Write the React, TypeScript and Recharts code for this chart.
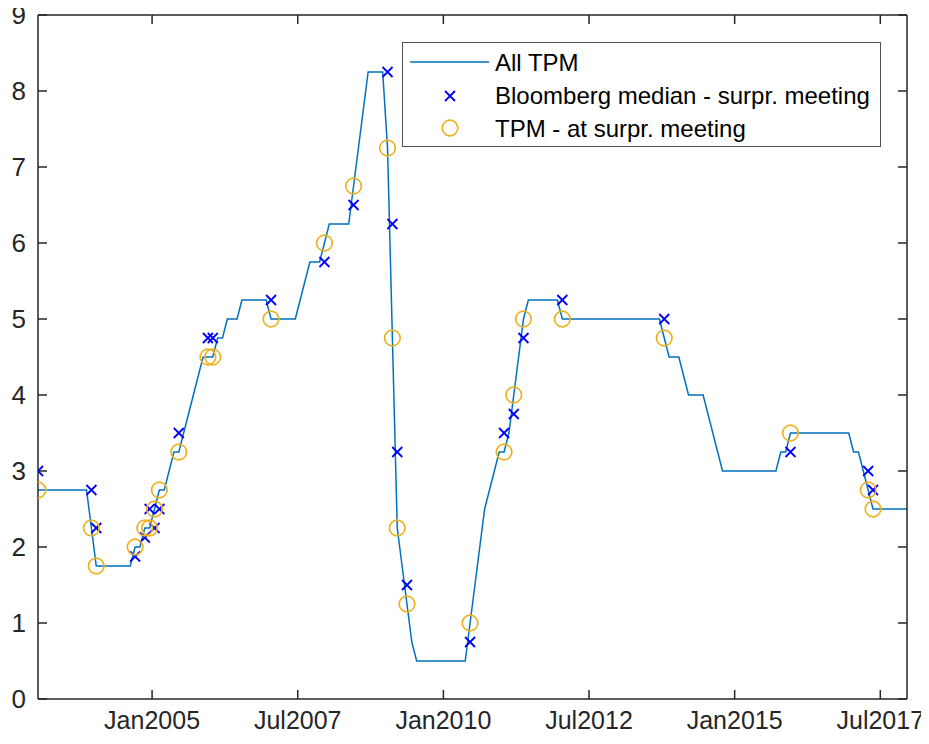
import React from "react";
import { ComposedChart, Line, Scatter, XAxis, YAxis, Legend } from "recharts";

const font = "'Liberation Sans', Arial, sans-serif";
const axisColor = "#262626";

const startYear = 2003;
// monthly policy rate (TPM), one row per year Jan..Dec
const tpmMonthly = [
  2.75, 2.75, 2.75, 2.75, 2.75, 2.75, 2.75, 2.75, 2.75, 2.75, 2.75, 2.25, // 2003
  1.75, 1.75, 1.75, 1.75, 1.75, 1.75, 1.75, 1.75, 2.0, 2.0, 2.25, 2.25, // 2004
  2.5, 2.75, 2.75, 3.0, 3.25, 3.25, 3.5, 3.75, 4.0, 4.25, 4.5, 4.5, // 2005
  4.5, 4.75, 4.75, 5.0, 5.0, 5.0, 5.25, 5.25, 5.25, 5.25, 5.25, 5.25, // 2006
  5.0, 5.0, 5.0, 5.0, 5.0, 5.0, 5.25, 5.5, 5.75, 5.75, 5.75, 6.0, // 2007
  6.25, 6.25, 6.25, 6.25, 6.25, 6.75, 7.25, 7.75, 8.25, 8.25, 8.25, 8.25, // 2008
  7.25, 4.75, 2.25, 1.75, 1.25, 0.75, 0.5, 0.5, 0.5, 0.5, 0.5, 0.5, // 2009
  0.5, 0.5, 0.5, 0.5, 0.5, 1.0, 1.5, 2.0, 2.5, 2.75, 3.0, 3.25, // 2010
  3.25, 3.5, 4.0, 4.5, 5.0, 5.25, 5.25, 5.25, 5.25, 5.25, 5.25, 5.25, // 2011
  5.0, 5.0, 5.0, 5.0, 5.0, 5.0, 5.0, 5.0, 5.0, 5.0, 5.0, 5.0, // 2012
  5.0, 5.0, 5.0, 5.0, 5.0, 5.0, 5.0, 5.0, 5.0, 4.75, 4.5, 4.5, // 2013
  4.5, 4.25, 4.0, 4.0, 4.0, 4.0, 3.75, 3.5, 3.25, 3.0, 3.0, 3.0, // 2014
  3.0, 3.0, 3.0, 3.0, 3.0, 3.0, 3.0, 3.0, 3.0, 3.25, 3.25, 3.5, // 2015
  3.5, 3.5, 3.5, 3.5, 3.5, 3.5, 3.5, 3.5, 3.5, 3.5, 3.5, 3.5, // 2016
  3.25, 3.25, 3.0, 2.75, 2.5, 2.5, 2.5, 2.5, 2.5, 2.5, 2.5, 2.5, // 2017
];

// surprise meetings
const surpriseMonths = [
  "2003-01", "2003-12", "2004-01", "2004-09", "2004-11", "2004-12", "2005-01",
  "2005-02", "2005-06", "2005-12", "2006-01", "2007-01", "2007-12", "2008-06",
  "2009-01", "2009-02", "2009-03", "2009-05", "2010-06", "2011-01", "2011-03",
  "2011-05", "2012-01", "2013-10", "2015-12", "2017-04", "2017-05",
];
const bloombergMedian = [
  3.0, 2.75, 2.25, 1.875, 2.125, 2.5, 2.25,
  2.5, 3.5, 4.75, 4.75, 5.25, 5.75, 6.5,
  8.25, 6.25, 3.25, 1.5, 0.75, 3.5, 3.75,
  4.75, 5.25, 5.0, 3.25, 3.0, 2.75,
];
const tpmAtSurprise = [
  2.75, 2.25, 1.75, 2.0, 2.25, 2.25, 2.5,
  2.75, 3.25, 4.5, 4.5, 5.0, 6.0, 6.75,
  7.25, 4.75, 2.25, 1.25, 1.0, 3.25, 4.0,
  5.0, 5.0, 4.75, 3.5, 2.75, 2.5,
];

const xTicks = [2005, 2007.5, 2010, 2012.5, 2015, 2017.5];
const xTickLabels = ["Jan2005", "Jul2007", "Jan2010", "Jul2012", "Jan2015", "Jul2017"];
const yTicks = [0, 1, 2, 3, 4, 5, 6, 7, 8, 9];

const monthT = (y: number, m: number) => y + (m - 0.5) / 12;
const parseMonth = (s: string) => {
  const [y, m] = s.split("-").map(Number);
  return monthT(y, m);
};

const lineData = tpmMonthly.map((v, i) => ({
  t: monthT(startYear + Math.floor(i / 12), (i % 12) + 1),
  v,
}));
const blueData = surpriseMonths.map((s, i) => ({ t: parseMonth(s), v: bloombergMedian[i] }));
const orangeData = surpriseMonths.map((s, i) => ({ t: parseMonth(s), v: tpmAtSurprise[i] }));
const xDomain = [lineData[0].t, lineData[lineData.length - 1].t];

const XMark = (p: any) => {
  const { cx, cy } = p;
  const h = 5;
  return (
    <path
      d={`M${cx - h},${cy - h}L${cx + h},${cy + h}M${cx - h},${cy + h}L${cx + h},${cy - h}`}
      stroke="#0000ff"
      strokeWidth={1.8}
      fill="none"
    />
  );
};

const OMark = (p: any) => (
  <circle cx={p.cx} cy={p.cy} r={7.8} fill="none" stroke="#EDB120" strokeWidth={1.7} />
);

const LegendBox = () => (
  <svg width={479} height={105} style={{ display: "block" }}>
    <rect x={0.5} y={0.5} width={478} height={104} fill="#fff" stroke="#505050" strokeWidth={1} />
    <line x1={8} y1={20} x2={87} y2={20} stroke="#0072BD" strokeWidth={1.5} />
    <XMark cx={48} cy={54} />
    <OMark cx={48} cy={86} />
    <g fontFamily={font} fontSize={24} fill="#000">
      <text x={93} y={29}>All TPM</text>
      <text x={93} y={62}>Bloomberg median - surpr. meeting</text>
      <text x={93} y={95}>TPM - at surpr. meeting</text>
    </g>
  </svg>
);

const axisLine = { stroke: axisColor, strokeWidth: 1.5 };
const yTickStyle = { fill: axisColor, fontSize: 26, fontFamily: font };
const xTickStyle = { fill: axisColor, fontSize: 25, fontFamily: font };

export default function App() {
  return (
    <div>
      <style>{`.recharts-surface { overflow: visible; }`}</style>
      <ComposedChart
        width={921}
        height={728}
        margin={{ top: 6, right: 21, bottom: 0, left: 0 }}
      >
        <XAxis
          dataKey="t"
          type="number"
          domain={xDomain}
          allowDataOverflow
          ticks={xTicks}
          interval={0}
          tickFormatter={(v: number) => xTickLabels[xTicks.indexOf(v)] ?? ""}
          height={37}
          tickSize={-9}
          tickMargin={21}
          axisLine={axisLine}
          tickLine={axisLine}
          tick={xTickStyle}
        />
        <XAxis
          xAxisId="top"
          dataKey="t"
          orientation="top"
          type="number"
          domain={xDomain}
          allowDataOverflow
          ticks={xTicks}
          interval={0}
          height={1}
          tickSize={-9}
          axisLine={axisLine}
          tickLine={axisLine}
          tickFormatter={() => ""}
        />
        <YAxis
          dataKey="v"
          type="number"
          domain={[0, 9]}
          ticks={yTicks}
          interval={0}
          width={30}
          tickSize={-9}
          tickMargin={21}
          axisLine={axisLine}
          tickLine={axisLine}
          tick={yTickStyle}
        />
        <YAxis
          yAxisId="right"
          dataKey="v"
          orientation="right"
          type="number"
          domain={[0, 9]}
          ticks={yTicks}
          interval={0}
          width={1}
          tickSize={-9}
          axisLine={axisLine}
          tickLine={axisLine}
          tickFormatter={() => ""}
        />
        {/* invisible series so the box axes are drawn */}
        <Line
          data={lineData}
          dataKey="v"
          xAxisId="top"
          yAxisId="right"
          stroke="none"
          dot={false}
          activeDot={false}
          legendType="none"
          isAnimationActive={false}
        />
        <Line
          data={lineData}
          dataKey="v"
          name="All TPM"
          stroke="#0072BD"
          strokeWidth={1.5}
          dot={false}
          activeDot={false}
          isAnimationActive={false}
        />
        <Scatter
          data={blueData}
          dataKey="v"
          name="Bloomberg median - surpr. meeting"
          shape={XMark}
          isAnimationActive={false}
        />
        <Scatter
          data={orangeData}
          dataKey="v"
          name="TPM - at surpr. meeting"
          shape={OMark}
          isAnimationActive={false}
        />
        <Legend
          layout="horizontal"
          verticalAlign="middle"
          align="center"
          content={() => <LegendBox />}
          wrapperStyle={{ position: "absolute", left: 394, top: 34, width: 479, height: 105 }}
        />
      </ComposedChart>
    </div>
  );
}
